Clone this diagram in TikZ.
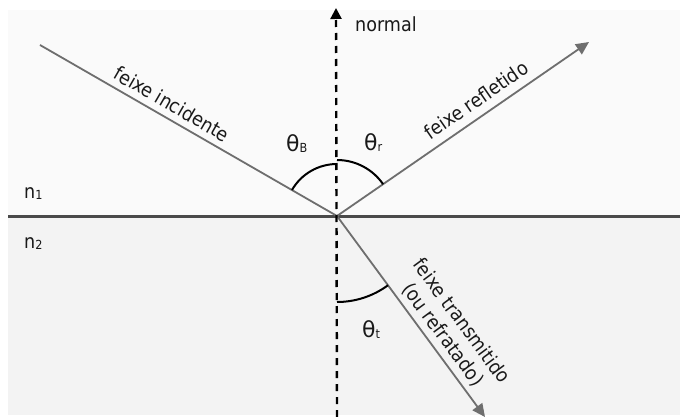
\documentclass[tikz,border=0pt]{standalone}
\usepackage{fontspec}
\setmainfont{DejaVu Sans Condensed}
\newfontfamily\thetafont{DejaVu Sans}
\usetikzlibrary{arrows.meta}
\definecolor{bgtop}{HTML}{FAFAFA}
\definecolor{bgbot}{HTML}{F3F3F3}
\definecolor{raygray}{HTML}{6E6E6E}
\definecolor{ifgray}{HTML}{4A4A4A}
\newcommand{\smallsub}[1]{\raisebox{-1pt}{\fontsize{12.5}{12.5}\selectfont #1}}
\newcommand{\bigtheta}{{\thetafont\fontsize{22}{22}\selectfont θ}}
\begin{document}
\begin{tikzpicture}[x=1pt,y=-1pt,
  ray/.style={draw=raygray,line width=1.8pt},
  rayarrow/.style={ray,-{Triangle[length=13pt,width=12pt]}},
  normalline/.style={draw=black,line width=2.4pt,dash pattern=on 7pt off 6pt,-{Triangle[length=11pt,width=11pt]}},
  interface/.style={draw=ifgray,line width=3pt},
  anglearc/.style={draw=black,line width=2pt},
  lbl/.style={font=\fontsize{19.5}{23}\selectfont,inner sep=0pt,text=black!90},
  ]
\useasboundingbox (0,0) rectangle (680,417);
\fill[white] (0,0) rectangle (680,417);
\fill[bgtop] (8,10) rectangle (680,216);
\fill[bgbot] (8,216) rectangle (680,415);

\coordinate (O) at (337,216);
\coordinate (I) at (40,45);
\coordinate (R) at (589,42);
\coordinate (T) at (485,417);
\coordinate (NT) at (336,8);
\coordinate (NB) at (337,417);
\coordinate (L) at (8,216);
\coordinate (E) at (680,216);

\draw[interface] (L) -- (E);
\draw[ray] (I) -- (O);
\draw[rayarrow] (O) -- (R);
\draw[rayarrow] (O) -- (T);
\draw[normalline] (NB) -- (NT);

\draw[anglearc] ([shift={(210:52)}]O) arc[start angle=210,end angle=270,radius=52];
\draw[anglearc] ([shift={(270:56)}]O) arc[start angle=270,end angle=325.4,radius=56];
\draw[anglearc] ([shift={(53.6:86)}]O) arc[start angle=53.6,end angle=90,radius=86];

\node[lbl,anchor=base west] (nrm) at (355,32) {normal};
\node[lbl,anchor=base west] (n1) at (24,198) {n\smallsub{1}};
\node[lbl,anchor=base west] (n2) at (24,248) {n\smallsub{2}};
\node[lbl,anchor=base west] (tB) at (286,152) {\bigtheta\smallsub{B}};
\node[lbl,anchor=base west] (tr) at (364,150) {\bigtheta\smallsub{r}};
\node[lbl,anchor=base west] (tt) at (362,337) {\bigtheta\smallsub{t}};
\node[lbl,rotate=-30] (inc) at (172,104) {feixe incidente};
\node[lbl,rotate=34.6] (ref) at (476,100) {feixe refletido};
\node[lbl,rotate=-53.6,align=center] (tra) at (452,328) {feixe transmitido\\(ou refratado)};
\end{tikzpicture}
\end{document}
